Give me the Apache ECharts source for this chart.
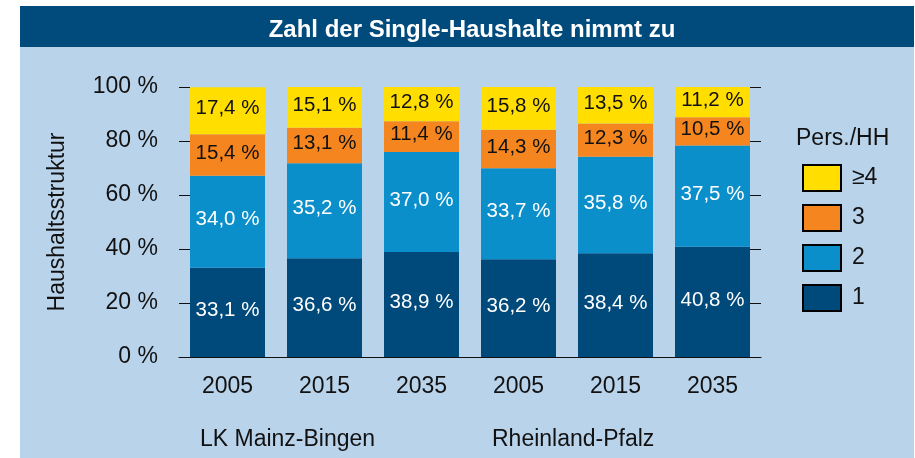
<!DOCTYPE html>
<html><head><meta charset="utf-8">
<script src="https://cdn.jsdelivr.net/npm/echarts@6/dist/echarts.min.js"></script>
<style>html,body{margin:0;padding:0;background:#fff}#c{width:915px;height:458px}</style>
</head><body><div id="c"></div>
<script>
const categories = ['2005','2015','2035','2005','2015','2035'];
const groupLabels = ['LK Mainz-Bingen','Rheinland-Pfalz'];
const p1 = [33.1, 36.6, 38.9, 36.2, 38.4, 40.8];
const p2 = [34.0, 35.2, 37.0, 33.7, 35.8, 37.5];
const p3 = [15.4, 13.1, 11.4, 14.3, 12.3, 10.5];
const p4 = [17.4, 15.1, 12.8, 15.8, 13.5, 11.2];
const seriesNames = ['1','2','3','≥4'];
const yTicks = [0, 20, 40, 60, 80, 100];

const FONT = 'Liberation Sans';
const colors = ['#00497b', '#0a8fcb', '#f5861f', '#ffde00'];
const labelColors = ['#fff', '#fff', '#111', '#111'];
const chart = echarts.init(document.getElementById('c'));
const fmt = v => v.toFixed(1).replace('.', ',') + ' %';
const mk = (name, data, i) => ({
  name, type: 'bar', stack: 'a', data, barWidth: 75,
  itemStyle: { color: colors[i] },
  label: { show: true, position: 'inside', offset: [0, -2], color: labelColors[i], fontFamily: FONT, fontSize: 20.5,
    formatter: p => fmt(p.value) },
  emphasis: { disabled: true }
});
chart.setOption({
  animation: false,
  textStyle: { fontFamily: FONT },
  graphic: [
    { type: 'rect', shape: { x: 20, y: 47, width: 894, height: 411 }, style: { fill: '#b9d3eb' }, z: -10 },
    { type: 'rect', shape: { x: 20, y: 6, width: 894, height: 41 }, style: { fill: '#004a7c' }, z: -10 },
    { type: 'text', left: 200, top: 428, style: { text: groupLabels[0], fill: '#111', font: '23px "Liberation Sans"' } },
    { type: 'text', left: 492, top: 428, style: { text: groupLabels[1], fill: '#111', font: '23px "Liberation Sans"' } },
    { type: 'text', left: 796, top: 127, style: { text: 'Pers./HH', fill: '#111', font: '23px "Liberation Sans"' } }
  ],
  title: { text: 'Zahl der Single-Haushalte nimmt zu', left: 467, textAlign: 'center', top: 13,
    textStyle: { color: '#fff', fontSize: 24, fontWeight: 'bold', fontFamily: FONT } },
  legend: {
    data: ['≥4','3','2','1'], orient: 'vertical', left: 797, top: 159, icon: 'rect',
    itemWidth: 38, itemHeight: 26, itemGap: 12,
    itemStyle: { borderColor: '#000', borderWidth: 2 },
    textStyle: { fontSize: 23, color: '#111', fontFamily: FONT, padding: [0, 0, 0, 6] },
    selectedMode: false
  },
  grid: { left: 179, right: 154, top: 87, bottom: 101 },
  xAxis: { type: 'category', data: categories,
    axisLine: { lineStyle: { color: '#111', width: 1 } }, axisTick: { show: false },
    axisLabel: { color: '#111', fontSize: 23, margin: 18, fontFamily: FONT } },
  yAxis: [
    { type: 'value', min: 0, max: 100, interval: 20, name: 'Haushaltsstruktur', nameLocation: 'middle',
      nameGap: 110, nameTextStyle: { fontSize: 23, color: '#111', fontFamily: FONT },
      axisLine: { show: false }, splitLine: { show: false },
      axisTick: { show: true, inside: true, length: 11, lineStyle: { color: '#111' } },
      axisLabel: { color: '#111', fontSize: 23, margin: 21, fontFamily: FONT,
        formatter: v => yTicks.includes(v) ? v + ' %' : '' } },
    { type: 'value', min: 0, max: 100, interval: 20, position: 'right',
      axisLine: { show: false }, splitLine: { show: false },
      axisTick: { show: true, inside: true, length: 11, lineStyle: { color: '#111' } },
      axisLabel: { show: false } }
  ],
  series: [mk(seriesNames[0], p1, 0), mk(seriesNames[1], p2, 1), mk(seriesNames[2], p3, 2), mk(seriesNames[3], p4, 3)]
});
</script></body></html>
